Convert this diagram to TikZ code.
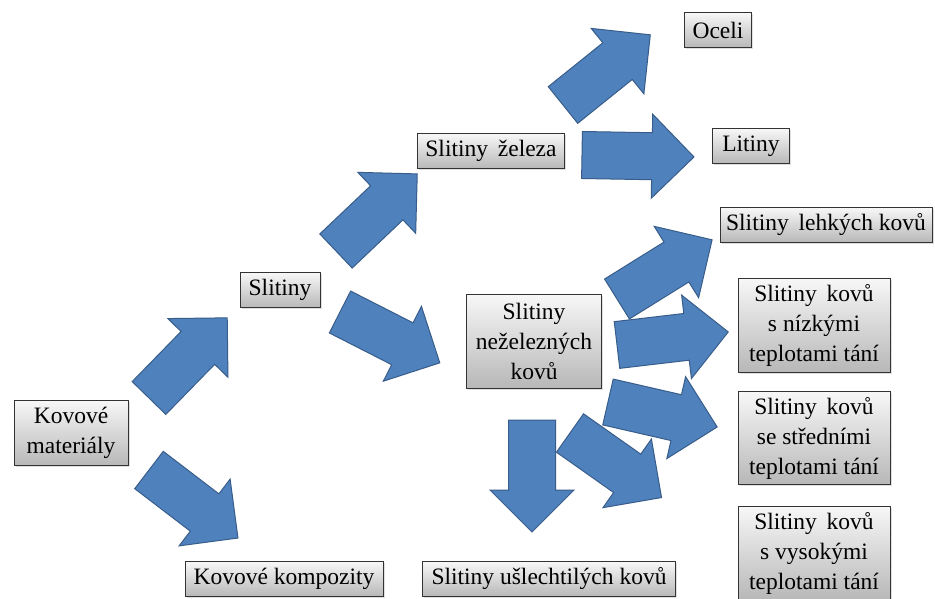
\documentclass[tikz,border=0pt]{standalone}
\usepackage{fontspec}
\setmainfont{Liberation Serif}
\usetikzlibrary{shadows}
\definecolor{arrowblue}{HTML}{4F81BD}
\definecolor{arrowedge}{HTML}{385D8A}
\begin{document}
\begin{tikzpicture}[x=1pt,y=-1pt,
  box/.style={draw=black!80, line width=0.8pt, top color=white!97!black, bottom color=black!28,
    align=center, inner sep=0pt, font=\fontsize{23.5}{30}\selectfont, text=black,
    drop shadow={shadow xshift=1.5pt, shadow yshift=-1.5pt, opacity=0.25}},
  barrowstyle/.style={fill=arrowblue, draw=arrowedge, line width=1pt, line join=miter},
  barrow/.pic={\path[barrowstyle] (0,-23.5) -- (70,-23.5) -- (70,-42) -- (112,0) -- (70,42) -- (70,23.5) -- (0,23.5) -- cycle;}
]
\clip (0,0) rectangle (935,599);
\fill[white] (0,0) rectangle (935,599);

% boxes
\node[box, minimum width=114, minimum height=65] (kovmat) at (71,433) {Kovové\\materiály};
\node[box, minimum width=80, minimum height=35] (slit) at (280,290) {Slitiny};
\node[box, minimum width=198, minimum height=35] (komp) at (284,579) {Kovové kompozity};
\node[box, minimum width=147, minimum height=35] (zel) at (491,151) {Slitiny\, železa};
\node[box, minimum width=135, minimum height=94] (nezel) at (534,341) {Slitiny\\neželezných\\kovů};
\node[box, minimum width=253, minimum height=35] (usl) at (549,579) {Slitiny ušlechtilých kovů};
\node[box, minimum width=67, minimum height=35] (oceli) at (718,30) {Oceli};
\node[box, minimum width=77, minimum height=35] (litiny) at (751,146) {Litiny};
\node[box, minimum width=212, minimum height=35] (lehke) at (826,225) {Slitiny\, lehkých kovů};
\node[box, minimum width=152, minimum height=94] (nizke) at (814,325) {Slitiny\, kovů\\s nízkými\\teplotami tání};
\node[box, minimum width=152, minimum height=93] (stredni) at (814,438) {Slitiny\, kovů\\se středními\\teplotami tání};
\node[box, minimum width=152, minimum height=94] (vysoke) at (814,553) {Slitiny\, kovů\\s vysokými\\teplotami tání};

% block arrows
\pic[rotate=45.7] at (149,398) {barrow};
\pic[rotate=43.5] at (336,251) {barrow};
\pic[rotate=-27] at (340,312) {barrow};
\pic[rotate=-37.4] at (149,470) {barrow};
\pic[rotate=38.8] at (563,105) {barrow};
\pic[rotate=-1] at (582,155) {barrow};
\pic[rotate=31.9] at (617,299) {barrow};
\pic[rotate=6.7] at (617,345) {barrow};
\pic[rotate=-12.9] at (608,402) {barrow};
\pic[rotate=-35.2] at (570,433) {barrow};
\pic[rotate=-90] at (532,420) {barrow};
\end{tikzpicture}
\end{document}
